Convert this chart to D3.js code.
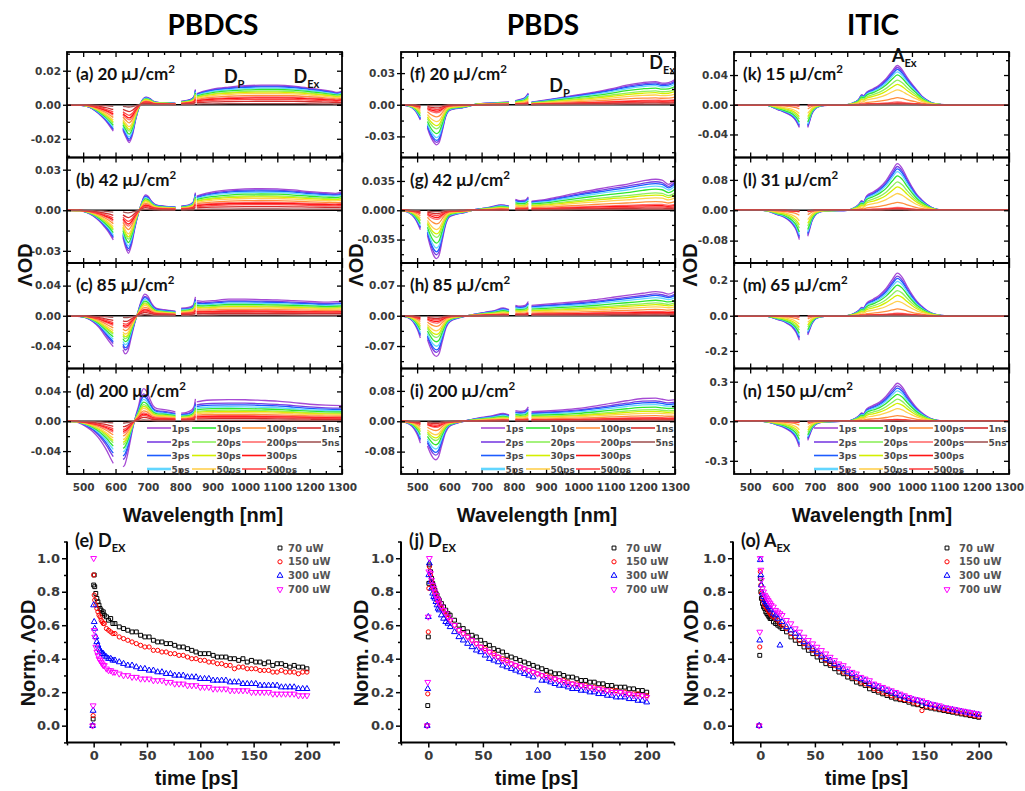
<!DOCTYPE html>
<html>
<head>
<meta charset="utf-8">
<script src="https://cdn.jsdelivr.net/npm/d3@7/dist/d3.min.js"></script>
<style>
  html, body { margin: 0; padding: 0; background: #fff; }
  svg { display: block; }
</style>
</head>
<body>
<svg id="fig" width="1025" height="791"></svg>
<script>
// ================= data =================
const materials = ["PBDCS", "PBDS", "ITIC"];
const panelTags = [["(a)", "(b)", "(c)", "(d)"], ["(f)", "(g)", "(h)", "(i)"], ["(k)", "(l)", "(m)", "(n)"]];
const fluences = [[20, 42, 85, 200], [20, 42, 85, 200], [15, 31, 65, 150]];

const delays = ["1ps", "2ps", "3ps", "5ps", "10ps", "20ps", "30ps", "50ps", "100ps", "200ps", "300ps", "500ps", "1ns", "5ns"];
const delayColors = ["#a64ad4", "#7a3ee2", "#1d5cff", "#62d6ff", "#2fe62f", "#8def5c", "#d4ef00", "#ffd04e", "#ff8f3c", "#ff6c6c", "#ff1414", "#ff4646", "#d22e2e", "#a35656"];

const wavelengthTicks = [500, 600, 700, 800, 900, 1000, 1100, 1200, 1300];
const wavelengthMinor = [450, 550, 650, 750, 850, 950, 1050, 1150, 1250];

// half-range of the ΔOD axis and the labelled tick step, per panel
const yLimits = [[0.031, 0.039, 0.070, 0.0707], [0.050, 0.063, 0.122, 0.139], [0.071, 0.139, 0.30, 0.40]];
const yTickSteps = [[0.02, 0.03, 0.04, 0.04], [0.03, 0.035, 0.07, 0.08], [0.04, 0.08, 0.2, 0.3]];
const yTickDigits = [[2, 2, 2, 2], [2, 3, 2, 2], [2, 2, 1, 1]];

// 1 ps spectra, [wavelength nm, ΔOD], split where the probe has gaps
const spectraPBDCS = [
  [
    [[450, 0], [480, -0.0002], [500, -0.0005], [520, -0.0015], [540, -0.004], [555, -0.0065], [570, -0.0095], [582, -0.0125], [593, -0.0155]],
    [[623, -0.015], [632, -0.019], [642, -0.0222], [652, -0.018], [662, -0.009], [672, -0.002], [682, 0.0025], [694, 0.0045], [705, 0.0038], [718, 0.002], [735, 0.0013], [760, 0.0012], [785, 0.0008]],
    [[803, 0.002], [820, 0.0025], [835, 0.0035], [843, 0.005], [847, 0.009]],
    [[851, 0.0065], [870, 0.0078], [900, 0.0092], [950, 0.0104], [1000, 0.0112], [1050, 0.0115], [1100, 0.0115], [1150, 0.011], [1200, 0.0098], [1240, 0.0088], [1270, 0.0078], [1285, 0.0072], [1300, 0.008]]
  ],
  [
    [[450, 0], [490, -0.0005], [510, -0.0015], [530, -0.004], [550, -0.008], [565, -0.012], [578, -0.016], [593, -0.022]],
    [[623, -0.02], [632, -0.028], [640, -0.0318], [650, -0.025], [660, -0.013], [670, -0.003], [680, 0.005], [692, 0.0113], [700, 0.0105], [712, 0.0065], [725, 0.004], [750, 0.003], [785, 0.0025]],
    [[803, 0.003], [825, 0.0038], [840, 0.006], [847, 0.013]],
    [[851, 0.0105], [870, 0.012], [900, 0.0135], [950, 0.015], [1000, 0.0158], [1050, 0.016], [1100, 0.0158], [1150, 0.015], [1200, 0.0138], [1250, 0.013], [1280, 0.0125], [1300, 0.0135]]
  ],
  [
    [[450, 0], [490, -0.001], [510, -0.003], [530, -0.008], [550, -0.016], [565, -0.025], [580, -0.034], [593, -0.041]],
    [[623, -0.045], [630, -0.0505], [638, -0.047], [648, -0.03], [658, -0.012], [668, 0.003], [678, 0.018], [690, 0.0286], [700, 0.026], [712, 0.016], [725, 0.01], [750, 0.008], [785, 0.006]],
    [[803, 0.01], [825, 0.011], [840, 0.014], [847, 0.025]],
    [[851, 0.02], [870, 0.019], [900, 0.02], [950, 0.022], [1000, 0.022], [1050, 0.0215], [1100, 0.021], [1150, 0.02], [1200, 0.019], [1250, 0.018], [1300, 0.019]]
  ],
  [
    [[450, 0], [480, -0.001], [500, -0.005], [515, -0.009], [530, -0.014], [545, -0.021], [560, -0.03], [575, -0.041], [585, -0.05], [593, -0.0564]],
    [[623, -0.061], [628, -0.059], [636, -0.047], [645, -0.028], [655, -0.006], [663, 0.008], [672, 0.022], [680, 0.038], [687, 0.0436], [696, 0.04], [706, 0.03], [716, 0.021], [728, 0.017], [745, 0.016], [765, 0.0145], [785, 0.0125]],
    [[803, 0.011], [820, 0.012], [835, 0.015], [843, 0.02], [847, 0.03]],
    [[851, 0.026], [870, 0.0275], [900, 0.0285], [950, 0.029], [1000, 0.0288], [1050, 0.028], [1100, 0.027], [1150, 0.025], [1200, 0.0228], [1250, 0.0215], [1300, 0.021]]
  ]
];

const spectraPBDS = [
  [
    [[450, 0], [470, -0.001], [485, -0.003], [495, -0.006], [503, -0.01], [510, -0.0145]],
    [[532, -0.022], [540, -0.029], [550, -0.035], [560, -0.038], [568, -0.036], [578, -0.025], [588, -0.012], [598, -0.006], [615, -0.004], [640, -0.003], [665, -0.001], [690, 0.001], [720, 0.0015], [750, 0.002], [785, 0.0025]],
    [[805, 0.004], [820, 0.005], [835, 0.007], [845, 0.011]],
    [[855, 0.0025], [900, 0.0045], [950, 0.007], [1000, 0.0095], [1050, 0.012], [1100, 0.015], [1150, 0.0185], [1200, 0.021], [1240, 0.022], [1260, 0.0205], [1280, 0.021], [1300, 0.024]]
  ],
  [
    [[450, 0], [470, -0.002], [485, -0.006], [495, -0.011], [503, -0.017], [510, -0.0234]],
    [[532, -0.03], [540, -0.042], [550, -0.053], [560, -0.0578], [568, -0.054], [578, -0.036], [588, -0.018], [600, -0.008], [620, -0.005], [645, -0.003], [670, 0], [700, 0.002], [730, 0.004], [760, 0.0065], [785, 0.005]],
    [[805, 0.013], [820, 0.0115], [835, 0.012], [845, 0.016]],
    [[855, 0.011], [900, 0.013], [950, 0.017], [1000, 0.021], [1050, 0.0245], [1100, 0.028], [1150, 0.031], [1200, 0.035], [1240, 0.037], [1260, 0.036], [1280, 0.031], [1300, 0.037]]
  ],
  [
    [[450, 0], [470, -0.004], [485, -0.012], [495, -0.023], [503, -0.036], [510, -0.0515]],
    [[532, -0.055], [540, -0.072], [550, -0.088], [560, -0.094], [568, -0.088], [578, -0.06], [590, -0.027], [605, -0.012], [625, -0.006], [650, -0.001], [680, 0.004], [710, 0.008], [740, 0.012], [767, 0.018], [785, 0.014]],
    [[805, 0.024], [820, 0.022], [835, 0.024], [845, 0.033]],
    [[855, 0.024], [900, 0.027], [950, 0.03], [1000, 0.033], [1050, 0.037], [1100, 0.042], [1150, 0.047], [1200, 0.052], [1240, 0.056], [1260, 0.054], [1280, 0.05], [1300, 0.056]]
  ],
  [
    [[450, 0], [470, -0.005], [485, -0.014], [495, -0.026], [503, -0.04], [510, -0.0577]],
    [[532, -0.065], [540, -0.082], [550, -0.097], [558, -0.1015], [566, -0.095], [576, -0.065], [588, -0.03], [600, -0.014], [620, -0.006], [644, 0], [670, 0.005], [700, 0.01], [735, 0.015], [767, 0.021], [785, 0.017]],
    [[805, 0.028], [820, 0.026], [835, 0.028], [845, 0.038]],
    [[855, 0.025], [900, 0.027], [950, 0.03], [1000, 0.034], [1050, 0.04], [1100, 0.047], [1150, 0.054], [1200, 0.06], [1240, 0.061], [1260, 0.058], [1280, 0.055], [1300, 0.057]]
  ]
];

const spectraITIC = [
  [
    [[450, 0], [540, 0], [555, -0.001], [570, -0.0035], [585, -0.0065], [600, -0.009], [615, -0.012], [630, -0.016], [642, -0.022], [652, -0.0307]],
    [[678, -0.0307], [684, -0.022], [690, -0.013], [700, -0.006], [712, -0.0025], [730, -0.001], [760, -0.0005], [800, 0], [820, 0.003], [835, 0.007], [845, 0.0137], [850, 0.012], [860, 0.017], [880, 0.0215], [900, 0.027], [920, 0.035], [940, 0.046], [955, 0.0528], [970, 0.047], [985, 0.037], [1000, 0.028], [1015, 0.02], [1030, 0.012], [1046, 0.0065], [1060, 0.003], [1080, 0.001], [1100, 0], [1300, 0]]
  ],
  [
    [[450, 0], [540, 0], [555, -0.002], [570, -0.007], [585, -0.012], [600, -0.016], [615, -0.024], [630, -0.036], [642, -0.052], [652, -0.0773]],
    [[678, -0.0685], [684, -0.05], [690, -0.031], [700, -0.014], [712, -0.006], [730, -0.002], [760, -0.001], [800, 0], [820, 0.006], [835, 0.015], [845, 0.025], [850, 0.022], [860, 0.038], [880, 0.048], [900, 0.06], [920, 0.078], [940, 0.105], [955, 0.1227], [970, 0.11], [985, 0.085], [1000, 0.062], [1015, 0.042], [1030, 0.028], [1046, 0.016], [1060, 0.008], [1080, 0.002], [1100, 0], [1300, 0]]
  ],
  [
    [[450, 0], [540, 0], [555, -0.004], [570, -0.012], [585, -0.022], [600, -0.03], [615, -0.045], [630, -0.065], [642, -0.095], [652, -0.139]],
    [[678, -0.11], [684, -0.08], [690, -0.05], [700, -0.022], [712, -0.01], [730, -0.004], [760, -0.002], [800, 0], [820, 0.012], [835, 0.03], [845, 0.048], [850, 0.044], [860, 0.072], [880, 0.094], [900, 0.118], [920, 0.155], [940, 0.208], [955, 0.242], [970, 0.218], [985, 0.168], [1000, 0.122], [1015, 0.083], [1030, 0.055], [1046, 0.031], [1060, 0.016], [1080, 0.005], [1100, 0], [1300, 0]]
  ],
  [
    [[450, 0], [540, 0], [555, -0.006], [570, -0.017], [585, -0.03], [600, -0.042], [615, -0.062], [630, -0.09], [642, -0.13], [652, -0.195]],
    [[678, -0.145], [684, -0.105], [690, -0.066], [700, -0.03], [712, -0.013], [730, -0.005], [760, -0.002], [800, 0], [820, 0.016], [835, 0.04], [845, 0.063], [850, 0.058], [860, 0.094], [880, 0.12], [900, 0.146], [920, 0.19], [940, 0.25], [955, 0.288], [970, 0.26], [985, 0.2], [1000, 0.146], [1015, 0.1], [1030, 0.066], [1046, 0.037], [1060, 0.019], [1080, 0.006], [1100, 0], [1300, 0]]
  ]
];

// fraction of the 1 ps signal left at each delay, per panel
const decayPBDCS = [
  [1, 0.95, 0.91, 0.85, 0.78, 0.70, 0.65, 0.58, 0.48, 0.40, 0.35, 0.28, 0.18, 0.06],
  [1, 0.94, 0.89, 0.83, 0.75, 0.67, 0.62, 0.55, 0.45, 0.37, 0.32, 0.26, 0.17, 0.06],
  [1, 0.90, 0.84, 0.76, 0.68, 0.60, 0.55, 0.48, 0.39, 0.31, 0.27, 0.22, 0.15, 0.05],
  [1, 0.84, 0.76, 0.67, 0.59, 0.51, 0.46, 0.40, 0.32, 0.26, 0.22, 0.18, 0.12, 0.04]
];
const decayPBDS = [
  [1, 0.94, 0.89, 0.82, 0.72, 0.60, 0.52, 0.42, 0.30, 0.20, 0.16, 0.12, 0.08, 0.03],
  [1, 0.92, 0.86, 0.78, 0.68, 0.56, 0.49, 0.40, 0.28, 0.19, 0.15, 0.11, 0.07, 0.03],
  [1, 0.90, 0.84, 0.75, 0.64, 0.53, 0.46, 0.37, 0.26, 0.18, 0.14, 0.10, 0.07, 0.03],
  [1, 0.88, 0.81, 0.72, 0.61, 0.50, 0.43, 0.35, 0.24, 0.16, 0.13, 0.10, 0.06, 0.03]
];
const decayITIC = [
  [1, 0.95, 0.90, 0.84, 0.76, 0.63, 0.52, 0.38, 0.18, 0.07, 0.04, 0.03, 0.02, 0.01],
  [1, 0.94, 0.89, 0.83, 0.74, 0.61, 0.50, 0.36, 0.17, 0.06, 0.04, 0.03, 0.02, 0.01],
  [1, 0.93, 0.88, 0.81, 0.72, 0.59, 0.48, 0.34, 0.16, 0.06, 0.04, 0.03, 0.02, 0.01],
  [1, 0.93, 0.87, 0.80, 0.71, 0.58, 0.47, 0.33, 0.15, 0.05, 0.035, 0.025, 0.015, 0.01]
];

// kinetics at the exciton band
const kinTags = ["(e)", "(j)", "(o)"];
const kinBands = [["D", "EX"], ["D", "EX"], ["A", "EX"]];
const kinSeries = ["70 uW", "150 uW", "300 uW", "700 uW"];
const kinColors = ["#000000", "#ff0000", "#0000ff", "#ff00ff"];
const timeTicks = [0, 50, 100, 150, 200];
const timeMinor = [-25, 25, 75, 125, 175, 225];
const normTicks = [0, 0.2, 0.4, 0.6, 0.8, 1.0];
const normMinor = [-0.1, 0.1, 0.3, 0.5, 0.7, 0.9, 1.1];

const kinTimes = [-1, -0.5, 0, 0.5, 1, 2, 3, 4, 5, 6, 7, 8, 9, 10, 12, 14, 16, 18, 20,
  24, 28, 32, 36, 40, 44, 48, 52, 56, 60, 64, 68, 72, 76, 80, 84, 88, 92, 96, 100,
  104, 108, 112, 116, 120, 124, 128, 132, 136, 140, 144, 148, 152, 156, 160, 164, 168,
  172, 176, 180, 184, 188, 192, 196, 200];

const kinPBDCS = [
  [0.00, 0.04, 0.84, 0.90, 0.83, 0.79, 0.76, 0.74, 0.72, 0.70, 0.69, 0.67, 0.68, 0.66, 0.65, 0.63, 0.64, 0.61, 0.61, 0.59, 0.58, 0.57, 0.56, 0.56, 0.54, 0.53, 0.53, 0.51, 0.50, 0.50, 0.49, 0.49, 0.48, 0.47, 0.47, 0.46, 0.45, 0.44, 0.43, 0.43, 0.43, 0.42, 0.41, 0.41, 0.41, 0.40, 0.40, 0.39, 0.40, 0.38, 0.39, 0.38, 0.38, 0.37, 0.38, 0.36, 0.37, 0.37, 0.36, 0.35, 0.36, 0.35, 0.35, 0.34],
  [0.00, 0.06, 0.90, 0.78, 0.75, 0.72, 0.70, 0.68, 0.66, 0.65, 0.63, 0.62, 0.61, 0.61, 0.58, 0.57, 0.56, 0.55, 0.55, 0.53, 0.52, 0.51, 0.50, 0.49, 0.48, 0.47, 0.47, 0.45, 0.45, 0.44, 0.44, 0.43, 0.43, 0.42, 0.42, 0.41, 0.40, 0.40, 0.39, 0.39, 0.38, 0.38, 0.37, 0.37, 0.36, 0.36, 0.34, 0.35, 0.35, 0.34, 0.34, 0.34, 0.33, 0.33, 0.33, 0.32, 0.32, 0.33, 0.32, 0.32, 0.32, 0.31, 0.32, 0.32],
  [0.00, 0.09, 0.72, 0.62, 0.58, 0.53, 0.50, 0.48, 0.46, 0.45, 0.44, 0.43, 0.43, 0.42, 0.41, 0.40, 0.40, 0.39, 0.39, 0.38, 0.37, 0.36, 0.36, 0.35, 0.34, 0.34, 0.33, 0.33, 0.32, 0.32, 0.31, 0.31, 0.30, 0.30, 0.30, 0.29, 0.29, 0.29, 0.28, 0.28, 0.28, 0.27, 0.27, 0.27, 0.27, 0.26, 0.26, 0.26, 0.25, 0.25, 0.25, 0.25, 0.24, 0.24, 0.24, 0.24, 0.24, 0.23, 0.23, 0.23, 0.23, 0.22, 0.22, 0.22],
  [0.00, 0.12, 1.00, 0.57, 0.53, 0.47, 0.44, 0.42, 0.40, 0.39, 0.38, 0.37, 0.36, 0.36, 0.34, 0.33, 0.33, 0.32, 0.32, 0.31, 0.30, 0.30, 0.29, 0.29, 0.28, 0.28, 0.28, 0.27, 0.27, 0.27, 0.26, 0.26, 0.25, 0.25, 0.25, 0.24, 0.24, 0.24, 0.23, 0.23, 0.23, 0.22, 0.22, 0.22, 0.22, 0.21, 0.21, 0.21, 0.21, 0.21, 0.20, 0.20, 0.20, 0.20, 0.20, 0.19, 0.19, 0.19, 0.19, 0.19, 0.19, 0.18, 0.18, 0.18]
];
const kinPBDS = [
  [0.00, 0.12, 0.53, 0.85, 0.96, 0.92, 0.88, 0.85, 0.83, 0.81, 0.79, 0.78, 0.76, 0.75, 0.73, 0.71, 0.69, 0.67, 0.66, 0.63, 0.60, 0.58, 0.56, 0.54, 0.53, 0.51, 0.49, 0.48, 0.46, 0.45, 0.44, 0.42, 0.41, 0.40, 0.39, 0.38, 0.37, 0.36, 0.35, 0.34, 0.33, 0.32, 0.31, 0.31, 0.30, 0.29, 0.29, 0.28, 0.27, 0.27, 0.26, 0.26, 0.25, 0.25, 0.24, 0.24, 0.23, 0.23, 0.23, 0.22, 0.22, 0.21, 0.21, 0.20],
  [0.00, 0.19, 0.56, 0.82, 0.95, 0.90, 0.86, 0.83, 0.81, 0.79, 0.77, 0.75, 0.74, 0.72, 0.70, 0.68, 0.66, 0.64, 0.63, 0.60, 0.57, 0.55, 0.53, 0.51, 0.49, 0.47, 0.46, 0.44, 0.43, 0.41, 0.40, 0.39, 0.37, 0.36, 0.35, 0.34, 0.33, 0.32, 0.31, 0.30, 0.30, 0.29, 0.28, 0.27, 0.27, 0.26, 0.25, 0.25, 0.24, 0.24, 0.23, 0.23, 0.22, 0.22, 0.21, 0.21, 0.21, 0.20, 0.20, 0.19, 0.19, 0.19, 0.18, 0.18],
  [0.00, 0.22, 0.65, 0.90, 0.97, 0.86, 0.82, 0.79, 0.77, 0.76, 0.74, 0.72, 0.70, 0.69, 0.66, 0.64, 0.62, 0.61, 0.59, 0.56, 0.53, 0.51, 0.49, 0.47, 0.45, 0.44, 0.42, 0.40, 0.39, 0.38, 0.36, 0.35, 0.34, 0.33, 0.32, 0.31, 0.30, 0.29, 0.21, 0.27, 0.27, 0.26, 0.25, 0.24, 0.24, 0.23, 0.22, 0.22, 0.21, 0.21, 0.20, 0.20, 0.19, 0.19, 0.18, 0.18, 0.17, 0.17, 0.17, 0.16, 0.16, 0.15, 0.15, 0.14],
  [0.00, 0.26, 0.65, 0.92, 1.00, 0.91, 0.87, 0.84, 0.82, 0.80, 0.78, 0.76, 0.75, 0.73, 0.71, 0.69, 0.67, 0.65, 0.63, 0.60, 0.57, 0.55, 0.53, 0.51, 0.49, 0.47, 0.45, 0.44, 0.42, 0.41, 0.39, 0.38, 0.37, 0.36, 0.35, 0.34, 0.33, 0.32, 0.31, 0.30, 0.29, 0.28, 0.28, 0.27, 0.26, 0.25, 0.25, 0.24, 0.24, 0.23, 0.23, 0.22, 0.22, 0.21, 0.21, 0.20, 0.20, 0.20, 0.19, 0.19, 0.18, 0.18, 0.18, 0.17]
];
const kinITIC = [
  [0.00, 0.42, 0.88, 0.80, 0.76, 0.73, 0.71, 0.70, 0.68, 0.67, 0.66, 0.65, 0.64, 0.64, 0.62, 0.61, 0.60, 0.59, 0.58, 0.56, 0.53, 0.51, 0.49, 0.47, 0.45, 0.43, 0.41, 0.39, 0.37, 0.36, 0.34, 0.32, 0.31, 0.29, 0.28, 0.26, 0.25, 0.24, 0.22, 0.21, 0.20, 0.19, 0.18, 0.17, 0.16, 0.155, 0.15, 0.14, 0.13, 0.125, 0.12, 0.11, 0.105, 0.10, 0.095, 0.09, 0.085, 0.08, 0.075, 0.07, 0.065, 0.06, 0.055, 0.05],
  [0.00, 0.47, 0.92, 0.84, 0.79, 0.76, 0.74, 0.72, 0.71, 0.70, 0.69, 0.68, 0.67, 0.66, 0.65, 0.64, 0.63, 0.61, 0.60, 0.58, 0.55, 0.53, 0.51, 0.49, 0.47, 0.45, 0.43, 0.41, 0.39, 0.37, 0.36, 0.34, 0.32, 0.31, 0.29, 0.28, 0.26, 0.25, 0.24, 0.22, 0.21, 0.20, 0.19, 0.18, 0.17, 0.16, 0.155, 0.15, 0.14, 0.13, 0.09, 0.115, 0.11, 0.105, 0.10, 0.095, 0.09, 0.085, 0.08, 0.075, 0.07, 0.065, 0.06, 0.055],
  [0.00, 0.51, 0.99, 0.90, 0.84, 0.79, 0.77, 0.75, 0.74, 0.73, 0.72, 0.71, 0.70, 0.69, 0.67, 0.66, 0.64, 0.48, 0.62, 0.59, 0.57, 0.55, 0.53, 0.50, 0.48, 0.46, 0.44, 0.42, 0.40, 0.39, 0.37, 0.35, 0.34, 0.32, 0.31, 0.29, 0.28, 0.27, 0.25, 0.24, 0.23, 0.22, 0.21, 0.20, 0.19, 0.18, 0.17, 0.16, 0.155, 0.15, 0.14, 0.13, 0.125, 0.12, 0.11, 0.105, 0.10, 0.095, 0.09, 0.085, 0.08, 0.075, 0.07, 0.065],
  [0.00, 0.56, 1.00, 0.93, 0.87, 0.82, 0.80, 0.78, 0.77, 0.76, 0.75, 0.74, 0.73, 0.72, 0.71, 0.69, 0.68, 0.67, 0.66, 0.63, 0.61, 0.58, 0.56, 0.53, 0.51, 0.49, 0.47, 0.45, 0.43, 0.41, 0.39, 0.37, 0.36, 0.34, 0.32, 0.31, 0.29, 0.28, 0.27, 0.25, 0.24, 0.23, 0.22, 0.21, 0.20, 0.19, 0.18, 0.17, 0.16, 0.155, 0.15, 0.14, 0.13, 0.125, 0.12, 0.11, 0.105, 0.10, 0.095, 0.09, 0.085, 0.08, 0.075, 0.07]
];

// ================= layout =================
const fig = d3.select("#fig");
const defs = fig.append("defs");
const TICK_FONT = "'DejaVu Sans', Verdana, sans-serif";
const LABEL_FONT = "Lato, 'Open Sans', sans-serif";
const TITLE_FONT = "'Liberation Sans', Arial, sans-serif";
const TICK_COLOR = "#3a3a3a";
const OD_LABEL = "\u039bOD";

const colLeft = [67, 401, 734];
const colRight = [342, 675, 1009];
const titleX = [213, 543, 873];
const specTop = 52, specH = 105.5;

const spectraByCol = [spectraPBDCS, spectraPBDS, spectraITIC];
const decayByCol = [decayPBDCS, decayPBDS, decayITIC];
const kinByCol = [kinPBDCS, kinPBDS, kinITIC];

function styleAxis(sel, width) {
  sel.select(".domain").remove();
  sel.selectAll(".tick line").attr("stroke", "#000").attr("stroke-width", width || 1.3);
  sel.selectAll(".tick text").attr("font-family", TICK_FONT).attr("font-weight", "bold")
    .attr("font-size", 10.5).attr("fill", TICK_COLOR);
}

function drawSpectrumPanel(c, r) {
  const top = specTop + r * specH, bottom = top + specH;
  const x = d3.scaleLinear().domain([450, 1300]).range([colLeft[c], colRight[c]]);
  const lim = yLimits[c][r];
  const y = d3.scaleLinear().domain([-lim, lim]).range([bottom, top]);
  const step = yTickSteps[c][r];
  const major = [-step, 0, step];
  const minor = [-2.5, -1.5, -0.5, 0.5, 1.5, 2.5].map(k => k * step).filter(v => Math.abs(v) < lim);
  const g = fig.append("g");

  const clipId = `clip-${c}-${r}`;
  defs.append("clipPath").attr("id", clipId).append("rect")
    .attr("x", colLeft[c]).attr("y", top).attr("width", colRight[c] - colLeft[c]).attr("height", specH);

  const plot = g.append("g").attr("clip-path", `url(#${clipId})`);
  plot.append("line").attr("x1", x(450)).attr("x2", x(1300)).attr("y1", y(0)).attr("y2", y(0))
    .attr("stroke", "#000").attr("stroke-width", 1.6);

  const line = d3.line().x(d => x(d[0])).y(d => y(d[1])).curve(d3.curveMonotoneX);
  const shape = spectraByCol[c][r];
  const decay = decayByCol[c][r];
  delays.forEach((name, k) => {
    shape.forEach(seg => {
      plot.append("path")
        .attr("d", line(seg.map(([w, v]) => [w, v * decay[k]])))
        .attr("fill", "none").attr("stroke", delayColors[k]).attr("stroke-width", 1.3);
    });
  });

  // ticks on all four sides
  const fmt = d3.format(`.${yTickDigits[c][r]}f`);
  const gl = g.append("g").attr("transform", `translate(${colLeft[c]},0)`)
    .call(d3.axisLeft(y).tickValues(major).tickSize(4).tickPadding(2).tickFormat(v => fmt(v).replace("\u2212", "-")));
  styleAxis(gl);
  styleAxis(g.append("g").attr("transform", `translate(${colLeft[c]},0)`)
    .call(d3.axisLeft(y).tickValues(minor).tickSize(-3).tickFormat("")));
  styleAxis(g.append("g").attr("transform", `translate(${colLeft[c]},0)`)
    .call(d3.axisLeft(y).tickValues(major).tickSize(-4).tickFormat("")));
  styleAxis(g.append("g").attr("transform", `translate(${colRight[c]},0)`)
    .call(d3.axisRight(y).tickValues(major).tickSize(-5).tickFormat("")));
  styleAxis(g.append("g").attr("transform", `translate(${colRight[c]},0)`)
    .call(d3.axisRight(y).tickValues(minor).tickSize(-3).tickFormat("")));
  styleAxis(g.append("g").attr("transform", `translate(0,${top})`)
    .call(d3.axisTop(x).tickValues(wavelengthTicks).tickSize(-5).tickFormat("")));
  styleAxis(g.append("g").attr("transform", `translate(0,${top})`)
    .call(d3.axisTop(x).tickValues(wavelengthMinor).tickSize(-3).tickFormat("")));
  const gb = g.append("g").attr("transform", `translate(0,${bottom})`)
    .call(d3.axisBottom(x).tickValues(wavelengthTicks).tickSize(-5).tickPadding(9.5)
      .tickFormat(r === 3 ? d3.format("d") : ""));
  styleAxis(gb);
  styleAxis(g.append("g").attr("transform", `translate(0,${bottom})`)
    .call(d3.axisBottom(x).tickValues(wavelengthMinor).tickSize(-3).tickFormat("")));

  g.append("rect").attr("x", colLeft[c]).attr("y", top)
    .attr("width", colRight[c] - colLeft[c]).attr("height", specH)
    .attr("fill", "none").attr("stroke", "#000").attr("stroke-width", 1.8);

  // panel caption
  const cap = g.append("text").attr("x", colLeft[c] + 9).attr("y", top + 28)
    .attr("font-family", LABEL_FONT).attr("font-weight", "bold").attr("font-size", 17).attr("fill", "#111");
  cap.append("tspan").text(`${panelTags[c][r]} ${fluences[c][r]} \u03bcJ/cm`);
  cap.append("tspan").attr("dy", -7).attr("font-size", 11.5).text("2");

  return { g, x, y, top, bottom };
}

function bandLabel(g, px, py, main, sub, size) {
  const t = g.append("text").attr("x", px).attr("y", py)
    .attr("font-family", LABEL_FONT).attr("font-weight", "bold").attr("font-size", size).attr("fill", "#111");
  t.append("tspan").text(main);
  t.append("tspan").attr("dy", 5).attr("font-size", size * 0.62).text(sub);
}

function drawDelayLegend(g, c, top) {
  const colOffsets = [80, 125, 175, 230];
  const rowOffsets = [59.5, 73.5, 87, 100.5];
  delays.forEach((name, k) => {
    const ci = k < 4 ? 0 : k < 8 ? 1 : k < 12 ? 2 : 3;
    const ri = k < 12 ? k % 4 : k - 12;
    const lx = colLeft[c] + colOffsets[ci], ly = top + rowOffsets[ri];
    g.append("line").attr("x1", lx).attr("x2", lx + 24).attr("y1", ly).attr("y2", ly)
      .attr("stroke", delayColors[k]).attr("stroke-width", k === 3 ? 2.6 : 1.6);
    g.append("text").attr("x", lx + 24.5).attr("y", ly + 3.5)
      .attr("font-family", TICK_FONT).attr("font-weight", "bold").attr("font-size", 9)
      .attr("fill", "#4a4a4a").text(name);
  });
}

function drawKinetics(c) {
  const kinLeft = [67, 401, 733], kinRight = [340, 674, 1006];
  const domains = [[-25, 231], [-25, 225], [-25, 225]];
  const x = d3.scaleLinear().domain(domains[c]).range([kinLeft[c], kinRight[c]]);
  const y = d3.scaleLinear().domain([-0.1, 1.1]).range([742.4, 541.5]);
  const g = fig.append("g");

  const gx = g.append("g").attr("transform", `translate(0,${y(-0.1)})`)
    .call(d3.axisBottom(x).tickValues(timeTicks).tickSize(5).tickPadding(3).tickFormat(d3.format("d")));
  styleAxis(gx, 1.5);
  gx.selectAll(".tick text").attr("font-size", 13);
  styleAxis(g.append("g").attr("transform", `translate(0,${y(-0.1)})`)
    .call(d3.axisBottom(x).tickValues(timeMinor).tickSize(3).tickFormat("")), 1.5);
  const gy = g.append("g").attr("transform", `translate(${x(domains[c][0])},0)`)
    .call(d3.axisLeft(y).tickValues(normTicks).tickSize(5).tickPadding(2).tickFormat(d3.format(".1f")));
  styleAxis(gy, 1.5);
  gy.selectAll(".tick text").attr("font-size", 13);
  styleAxis(g.append("g").attr("transform", `translate(${x(domains[c][0])},0)`)
    .call(d3.axisLeft(y).tickValues(normMinor).tickSize(3).tickFormat("")), 1.5);
  g.append("line").attr("x1", kinLeft[c]).attr("x2", kinRight[c]).attr("y1", y(-0.1)).attr("y2", y(-0.1))
    .attr("stroke", "#000").attr("stroke-width", 2);
  g.append("line").attr("x1", kinLeft[c]).attr("x2", kinLeft[c]).attr("y1", y(-0.1) + 1).attr("y2", y(1.1))
    .attr("stroke", "#000").attr("stroke-width", 2);

  const symbols = [
    d3.symbol(d3.symbolSquare, 15),
    d3.symbol(d3.symbolCircle, 14),
    d3.symbol(d3.symbolTriangle, 15),
    d3.symbol(d3.symbolTriangle, 15)
  ];
  const rot = [0, 0, 0, 180];
  const series = kinByCol[c];
  series.forEach((vals, s) => {
    const pts = vals.map((v, i) => [kinTimes[i], v]);
    g.append("g").selectAll("path").data(pts).join("path")
      .attr("d", symbols[s]())
      .attr("transform", d => `translate(${x(d[0])},${y(d[1])}) rotate(${rot[s]})`)
      .attr("fill", "none").attr("stroke", kinColors[s]).attr("stroke-width", 1);
  });

  // legend
  const legMarkX = [280, 614, 947], legTextX = [288, 626, 959];
  kinSeries.forEach((name, s) => {
    const ly = 548 + s * 13.8;
    g.append("path").attr("d", symbols[s]())
      .attr("transform", `translate(${legMarkX[c]},${ly}) rotate(${rot[s]})`)
      .attr("fill", "none").attr("stroke", kinColors[s]).attr("stroke-width", 1);
    g.append("text").attr("x", legTextX[c]).attr("y", ly + 3.5)
      .attr("font-family", TICK_FONT).attr("font-weight", "bold").attr("font-size", 10)
      .attr("fill", "#555").text(name);
  });

  bandLabel(g, kinLeft[c] + 8, 547, kinTags[c] + " " + kinBands[c][0], kinBands[c][1], 18);

  g.append("text").attr("x", (kinLeft[c] + kinRight[c]) / 2 + [-7, -1, -3][c]).attr("y", 785)
    .attr("text-anchor", "middle").attr("font-family", TITLE_FONT).attr("font-weight", "bold")
    .attr("font-size", 20).attr("fill", "#111").text("time [ps]");
  g.append("text").attr("transform", `translate(${[35, 368, 698][c]},653) rotate(-90)`)
    .attr("text-anchor", "middle").attr("font-family", TITLE_FONT).attr("font-weight", "bold")
    .attr("font-size", 20).attr("fill", "#111").text("Norm. " + OD_LABEL);
}

materials.forEach((name, c) => {
  fig.append("text").attr("x", titleX[c]).attr("y", 35).attr("text-anchor", "middle")
    .attr("font-family", LABEL_FONT).attr("font-weight", "bold").attr("font-size", 28)
    .attr("fill", "#000").text(name);

  let bottomPanel;
  for (let r = 0; r < 4; r++) {
    const p = drawSpectrumPanel(c, r);
    if (r === 0) {
      if (c === 0) {
        bandLabel(p.g, p.x(935), p.y(0.0127), "D", "P", 18);
        bandLabel(p.g, p.x(1150), p.y(0.0127), "D", "Ex", 18);
      } else if (c === 1) {
        bandLabel(p.g, p.x(910), p.y(0.0125), "D", "P", 18);
        bandLabel(p.g, p.x(1220), p.y(0.0335), "D", "Ex", 18);
      } else {
        bandLabel(p.g, p.x(938), p.y(0.057), "A", "Ex", 18);
      }
    }
    if (r === 3) bottomPanel = p;
  }
  drawDelayLegend(bottomPanel.g, c, bottomPanel.top);

  fig.append("text").attr("x", [203, 537, 872][c]).attr("y", 522).attr("text-anchor", "middle")
    .attr("font-family", TITLE_FONT).attr("font-weight", "bold").attr("font-size", 20)
    .attr("fill", "#111").text("Wavelength [nm]");
  fig.append("text").attr("transform", `translate(${[32, 363, 697][c]},265) rotate(-90)`)
    .attr("text-anchor", "middle").attr("font-family", TITLE_FONT).attr("font-weight", "bold")
    .attr("font-size", 20).attr("fill", "#111").text(OD_LABEL);

  drawKinetics(c);
});
</script>
</body>
</html>
